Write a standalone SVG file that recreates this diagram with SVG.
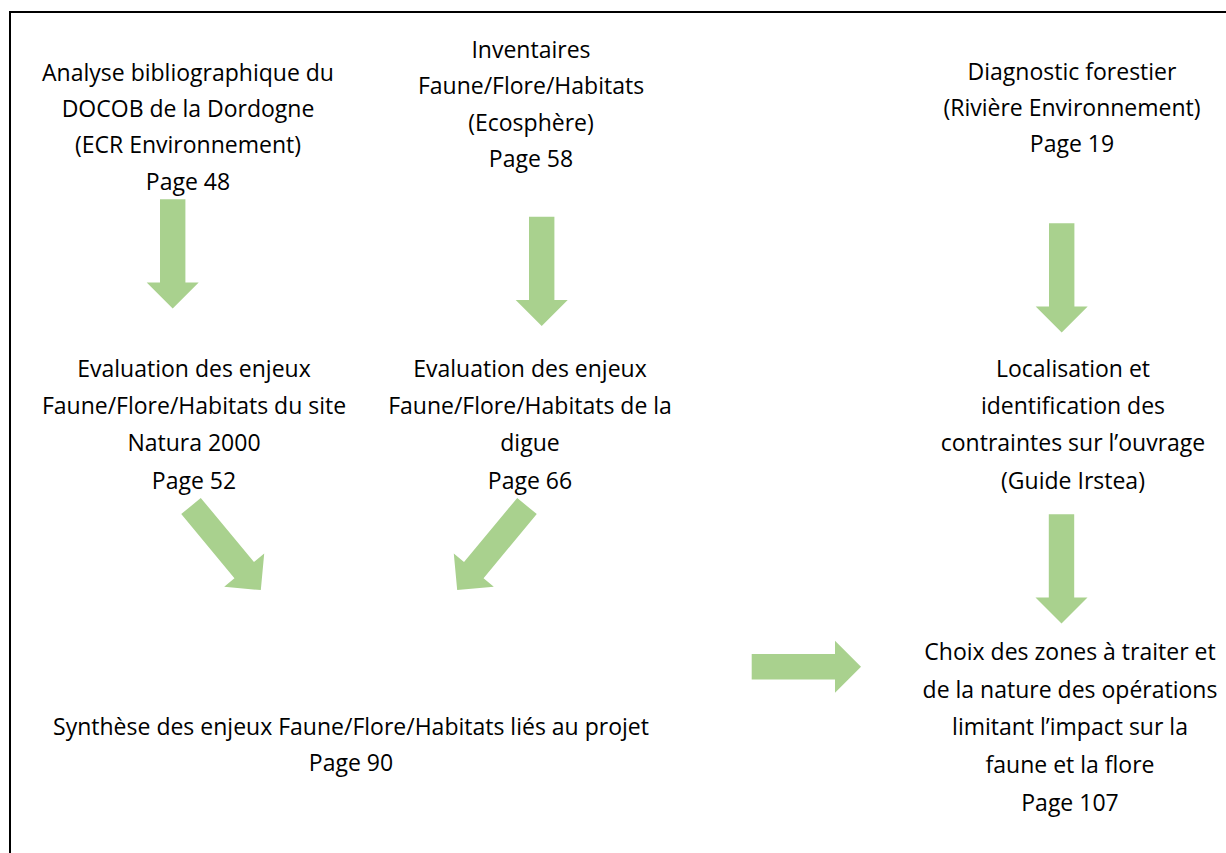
<svg xmlns="http://www.w3.org/2000/svg" xmlns:xlink="http://www.w3.org/1999/xlink" width="1226" height="853" viewBox="0 0 1226 853">
<style>
text{font-family:"Open Sans","Liberation Sans",sans-serif;font-size:23px;fill:#000;text-anchor:middle}
.arr{fill:#A9D18E}
.frame{stroke:#000;stroke-width:2;fill:none}
</style>
<defs>
<path id="downArrow" d="M-12.7,0 H12.7 V83.3 H26 L0,109.3 L-26,83.3 H-12.7 Z"/>
</defs>
<rect width="1226" height="853" fill="#fff"/>
<path class="frame" d="M10,853 V12 H1226"/>
<g id="n1"><text x="188" y="81">Analyse bibliographique du</text><text x="188" y="117">DOCOB de la Dordogne</text><text x="188" y="153">(ECR Environnement)</text><text x="188" y="190">Page 48</text></g>
<g id="n2"><text x="531" y="58">Inventaires</text><text x="531" y="94">Faune/Flore/Habitats</text><text x="531" y="131">(Ecosphère)</text><text x="531" y="167">Page 58</text></g>
<g id="n3"><text x="1072" y="80">Diagnostic forestier</text><text x="1072" y="116">(Rivière Environnement)</text><text x="1072" y="152">Page 19</text></g>
<g id="n4"><text x="194" y="377">Evaluation des enjeux</text><text x="194" y="414">Faune/Flore/Habitats du site</text><text x="194" y="451">Natura 2000</text><text x="194" y="489">Page 52</text></g>
<g id="n5"><text x="530" y="377">Evaluation des enjeux</text><text x="530" y="414">Faune/Flore/Habitats de la</text><text x="530" y="451">digue</text><text x="530" y="489">Page 66</text></g>
<g id="n6"><text x="1073" y="377">Localisation et</text><text x="1073" y="414">identification des</text><text x="1073" y="451">contraintes sur l’ouvrage</text><text x="1073" y="489">(Guide Irstea)</text></g>
<g id="n7"><text x="351" y="735">Synthèse des enjeux Faune/Flore/Habitats liés au projet</text><text x="351" y="771">Page 90</text></g>
<g id="n8"><text x="1070" y="660">Choix des zones à traiter et</text><text x="1070" y="698">de la nature des opérations</text><text x="1070" y="735">limitant l’impact sur la</text><text x="1070" y="773">faune et la flore</text><text x="1070" y="811">Page 107</text></g>
<g id="connectors" class="arr">
<use xlink:href="#downArrow" transform="translate(172.7,199.3)"/>
<use xlink:href="#downArrow" transform="translate(541.7,216.7)"/>
<use xlink:href="#downArrow" transform="translate(1061.7,223.3)"/>
<use xlink:href="#downArrow" transform="translate(1061.5,514.3)"/>
<use xlink:href="#downArrow" transform="translate(191,506) rotate(-39.7)"/>
<use xlink:href="#downArrow" transform="translate(527,506) rotate(39.7)"/>
<use xlink:href="#downArrow" transform="translate(751.7,666.7) rotate(-90)"/>
</g>
</svg>
